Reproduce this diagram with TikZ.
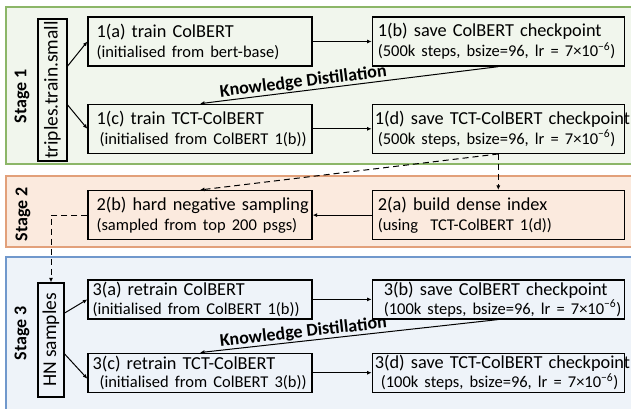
\documentclass[tikz,border=0pt]{standalone}
\usepackage{fontspec}
\setmainfont{Carlito}
\usepackage{graphicx}
\usepackage{xcolor}
\usetikzlibrary{positioning}
\usetikzlibrary{arrows.meta}
\usetikzlibrary{calc}

\definecolor{stageonefill}{RGB}{241,246,237}
\definecolor{stageoneline}{RGB}{140,182,104}
\definecolor{stagetwofill}{RGB}{251,234,222}
\definecolor{stagetwoline}{RGB}{226,160,122}
\definecolor{stagethreefill}{RGB}{238,243,249}
\definecolor{stagethreeline}{RGB}{112,152,204}

% title line and smaller detail line of a step box
\newcommand{\steptext}[2]{\mbox{#1}\\ {\fontsize{16.5}{20}\selectfont\mbox{#2}}}
\newcommand{\lrate}{7×10\textsuperscript{−6}}

\begin{document}
\begin{tikzpicture}[
  x=1pt, y=-1pt,
  node distance=37pt and 59pt, % rows and columns
  box/.style={
    draw,
    line width=1.3pt,
    align=left,
    inner ysep=1pt,
    font=\fontsize{18.3}{20}\selectfont
  },
  lbox/.style={box, text width=207pt, inner xsep=8.5pt, minimum height=49pt},
  rbox/.style={box, text width=241pt, inner xsep=5.5pt, minimum height=49pt},
  short/.style={minimum height=39pt, font=\fontsize{18.3}{18.5}\selectfont},
  vbox/.style={draw, line width=1.3pt, inner sep=0pt, font=\fontsize{19.5}{20}\selectfont},
  stage/.style={inner sep=0pt, font=\bfseries\fontsize{18}{18}\selectfont},
  kd/.style={sloped, above, inner sep=0.5pt, font=\bfseries\fontsize{18}{20}\selectfont},
  panel/.style={line width=1.2pt},
  arrow/.style={-{Latex[length=4.5pt,width=4pt]}, line width=1pt},
  dasharrow/.style={arrow, dash pattern=on 6pt off 4pt}
]
\useasboundingbox (0,0) rectangle (631,408);
\clip (0,0) rectangle (631,408);

% stage panels
\draw[panel, draw=stageoneline, fill=stageonefill] (6,7) rectangle (640,164);
\draw[panel, draw=stagetwoline, fill=stagetwofill] (6,176) rectangle (640,247);
\draw[panel, draw=stagethreeline, fill=stagethreefill] (6,257) rectangle (640,420);

\node[stage] (st1) at (22,96) {\rotatebox{90}{Stage 1}};
\node[stage] (st2) at (23,214) {\rotatebox{90}{Stage 2}};
\node[stage] (st3) at (22,333) {\rotatebox{90}{Stage 3}};

% stage 1
\node[vbox, minimum width=29pt, minimum height=142pt] (trip) at (52.5,90) {\rotatebox{90}{triples.train.small}};
\node[lbox] (a1) at (200,41.5) {\steptext{1(a) train ColBERT}{(initialised from bert-base)}};
\node[rbox, right=of a1] (b1) {\steptext{1(b) save ColBERT checkpoint}{(500k steps, bsize=96, lr = \lrate)}};
\node[lbox, below=of a1] (c1) {\steptext{1(c) train TCT-ColBERT}{\hspace*{3pt}(initialised from ColBERT 1(b))}};
\node[rbox, right=of c1] (d1) {\steptext{\hspace*{-3pt}1(d) save TCT-ColBERT checkpoint}{(500k steps, bsize=96, lr = \lrate)}};

% stage 2
\node[lbox, below=36pt of c1] (b2) {\steptext{2(b) hard negative sampling}{(sampled from top 200 psgs)}};
\node[rbox, right=of b2] (a2) {\steptext{2(a) build dense index}{(using\ \ TCT-ColBERT 1(d))}};

% stage 3
\node[vbox, minimum width=26pt, minimum height=114pt] (hn) at (51,340) {\rotatebox{90}{HN samples}};
\node[lbox, short, below=39pt of b2] (a3) {\steptext{\hspace*{-4pt}3(a) retrain ColBERT}{\hspace*{-4pt}(initialised from ColBERT 1(b))}};
\node[rbox, short, right=of a3] (b3) {\steptext{\hspace*{6pt}3(b) save ColBERT checkpoint}{\hspace*{6pt}(100k steps, bsize=96, lr = \lrate)}};
\node[lbox, short, below=33pt of a3] (c3) {\steptext{\hspace*{-4pt}3(c) retrain TCT-ColBERT}{\hspace*{3pt}(initialised from ColBERT 3(b))}};
\node[rbox, short, right=of c3] (d3) {\steptext{\hspace*{-3pt}3(d) save TCT-ColBERT checkpoint}{\hspace*{3pt}(100k steps, bsize=96, lr = \lrate)}};

\draw[arrow] ($(trip.east)+(0,-24)$) -- (a1.west);
\draw[arrow] ($(trip.east)+(0,15)$) -- (c1.west);
\draw[arrow] (a1) -- (b1);
\draw[arrow] (c1) -- (d1);
\draw[arrow] (b1.south) -- node[kd, pos=0.65] {Knowledge Distillation} (c1.north);

\draw[dasharrow] (d1.south) -- (a2.north);
\draw[dasharrow] (d1.south) -- (b2.north);
\draw[arrow] (a2) -- (b2);
\draw[dasharrow] (b2.west) -| (hn.north);

\draw[arrow] ($(hn.east)+(0,-27)$) -- (a3.west);
\draw[arrow] ($(hn.east)+(0,14)$) -- ($(c3.west)+(0,6)$);
\draw[arrow] (a3) -- (b3);
\draw[arrow] (c3) -- (d3);
\draw[arrow] (b3.south) -- node[kd, pos=0.65] {Knowledge Distillation} (c3.north);
\end{tikzpicture}
\end{document}
